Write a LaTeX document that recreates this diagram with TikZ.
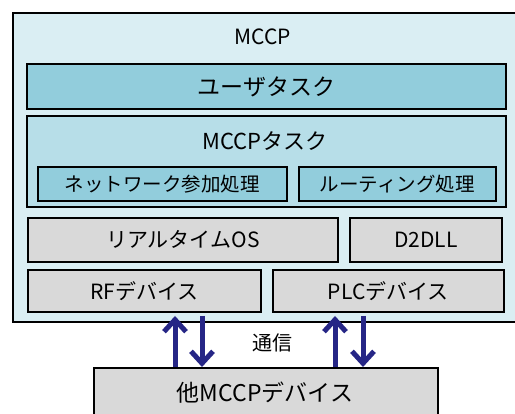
\documentclass[tikz,border=0pt]{standalone}
\usepackage{fontspec}
\setmainfont{Noto Sans CJK JP}
\usetikzlibrary{arrows.meta}
\definecolor{outerfill}{HTML}{DAEEF3}
\definecolor{darkfill}{HTML}{92CDDC}
\definecolor{midfill}{HTML}{B7DEE8}
\definecolor{grayfill}{HTML}{D9D9D9}
\definecolor{arrowcol}{RGB}{38,38,134}
\tikzset{
  box/.style={draw=black, line width=1.8pt, inner sep=0pt, anchor=north west},
  lbl/.style={inner sep=0pt, font=\fontsize{#1}{#1}\selectfont},
  arr/.style={draw=arrowcol, line width=5pt, -{Straight Barb[length=12pt,width=22pt]}},
}
\begin{document}
\begin{tikzpicture}[x=1pt,y=-1pt]
\useasboundingbox (0,0) rectangle (515,414);
\clip (0,0) rectangle (515,414);
\fill[white] (0,0) rectangle (515,414);
% outer
\node[box, fill=outerfill, minimum width=520pt, minimum height=309pt] (outer) at (12,12) {};
\node[lbl=21] (title) at (263,37) {MCCP};
% user task
\node[box, fill=darkfill, minimum width=479pt, minimum height=45pt] (user) at (26,63) {};
\node[lbl=23] (usert) at (user.center) {ユーザタスク};
% MCCP task
\node[box, fill=midfill, minimum width=479pt, minimum height=91pt] (mtask) at (26,115) {};
\node[lbl=22] (mtaskt) at (265,141) {MCCPタスク};
\node[box, fill=darkfill, minimum width=249pt, minimum height=34pt] (net) at (37,166) {};
\node[lbl=19.5] (nett) at (net.center) {ネットワーク参加処理};
\node[box, fill=darkfill, minimum width=197pt, minimum height=34pt] (rout) at (298,166) {};
\node[lbl=19.5] (routt) at (rout.center) {ルーティング処理};
% OS layer
\node[box, fill=grayfill, minimum width=310pt, minimum height=44pt] (rtos) at (27,217) {};
\node[lbl=21] (rtost) at (rtos.center) {リアルタイムOS};
\node[box, fill=grayfill, minimum width=152pt, minimum height=44pt] (d2) at (349,217) {};
\node[lbl=21] (d2t) at (d2.center) {D2DLL};
% devices
\node[box, fill=grayfill, minimum width=233pt, minimum height=42pt] (rf) at (27,269) {};
\node[lbl=21] (rft) at (rf.center) {RFデバイス};
\node[box, fill=grayfill, minimum width=231pt, minimum height=42pt] (plc) at (272,269) {};
\node[lbl=21] (plct) at (plc.center) {PLCデバイス};
% other device
\node[box, fill=grayfill, minimum width=344pt, minimum height=70pt] (other) at (93,367) {};
\node[lbl=23] (othert) at (265,393) {他MCCPデバイス};
\node[lbl=20] (comm) at (272,343) {通信};
% arrow coordinates
\coordinate (rfup) at (175,316);
\coordinate (rfdn) at (202,316);
\coordinate (plcup) at (335,316);
\coordinate (plcdn) at (363,316);
\draw[arr] (other.north -| rfup) -- (rfup);
\draw[arr] (rfdn) -- (other.north -| rfdn);
\draw[arr] (other.north -| plcup) -- (plcup);
\draw[arr] (plcdn) -- (other.north -| plcdn);
\end{tikzpicture}
\end{document}
